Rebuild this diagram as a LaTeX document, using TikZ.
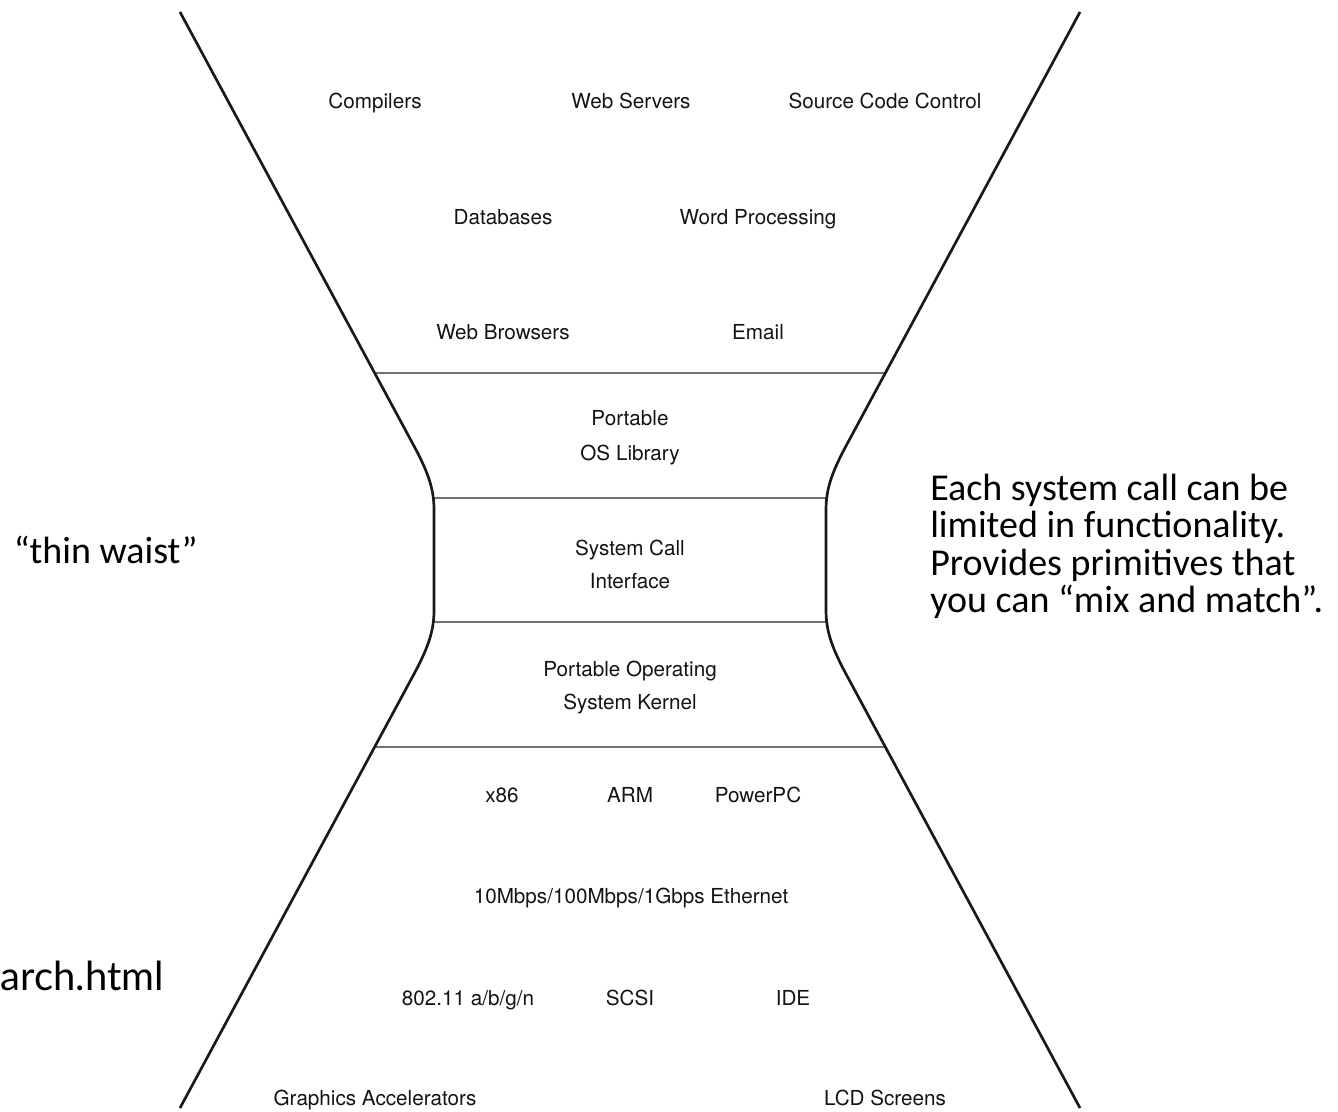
\documentclass[tikz,border=0pt]{standalone}
\usepackage{fontspec}
\setmainfont{TeX Gyre Heros}
\newfontfamily\calib{Carlito}
\newfontfamily\gillish{Lato}
\begin{document}
\begin{tikzpicture}[x=0.75pt,y=-0.75pt,
  lbl/.style={font=\fontsize{15.5}{18}\selectfont, text=black!92, inner sep=0pt, anchor=base},
  outline/.style={line width=2pt, black!90, line join=round},
  layer/.style={line width=1.3pt, black!55},
  note/.style={font=\calib\fontsize{28.5}{27.8}\selectfont, text=black, inner sep=0pt}]
\clip (0,0) rectangle (1338,1112);
\fill[white] (0,0) rectangle (1338,1112);

% layer separators
\draw[layer] (375,373) -- (885,373);
\draw[layer] (433.4,498) -- (826.6,498);
\draw[layer] (433.4,622) -- (826.6,622);
\draw[layer] (375,747) -- (885,747);

% hourglass outline
\draw[outline] (180,12) -- (414,446) .. controls (429,474) and (434,490) .. (434,510)
  -- (434,610) .. controls (434,630) and (429,646) .. (414,674) -- (180,1108);
\draw[outline] (1080,12) -- (846,446) .. controls (831,474) and (826,490) .. (826,510)
  -- (826,610) .. controls (826,630) and (831,646) .. (846,674) -- (1080,1108);

% applications
\node[lbl] (comp) at (375,109) {Compilers};
\node[lbl] (webs) at (631,109) {Web Servers};
\node[lbl] (scc)  at (885,109) {Source Code Control};
\node[lbl] (db)   at (503,225) {Databases};
\node[lbl] (wp)   at (758,225) {Word Processing};
\node[lbl] (wb)   at (503,340) {Web Browsers};
\node[lbl] (em)   at (758,340) {Email};

% waist layers
\node[lbl] (lib1) at (630,425) {Portable};
\node[lbl] (lib2) at (630,460) {OS Library};
\node[lbl] (sci1) at (630,555) {System Call};
\node[lbl] (sci2) at (630,588) {Interface};
\node[lbl] (ker1) at (630,676) {Portable Operating};
\node[lbl] (ker2) at (630,709) {System Kernel};

% hardware
\node[lbl] (x86) at (502,802) {x86};
\node[lbl] (arm) at (630,802) {ARM};
\node[lbl] (ppc) at (758,802) {PowerPC};
\node[lbl] (eth) at (631,903) {10Mbps/100Mbps/1Gbps Ethernet};
\node[lbl] (wifi) at (468,1005) {802.11 a/b/g/n};
\node[lbl] (scsi) at (630,1005) {SCSI};
\node[lbl] (ide)  at (793,1005) {IDE};
\node[lbl] (gfx) at (375,1105) {Graphics Accelerators};
\node[lbl] (lcd) at (885,1105) {LCD Screens};

% side notes
\node[note, anchor=base east] (waist) at (198,563) {“thin waist”};
\node[note, anchor=base west] (n1) at (930,500) {Each system call can be};
\node[note, anchor=base west] (n2) at (930,537) {limited in functionality.};
\node[note, anchor=base west] (n3) at (930,575) {Provides primitives that};
\node[note, anchor=base west] (n4) at (930,612) {you can “mix and match”.};
\node[font=\gillish\fontsize{30}{30}\selectfont, inner sep=0pt, anchor=base east] (url) at (164,990) {arch.html};
\end{tikzpicture}
\end{document}
